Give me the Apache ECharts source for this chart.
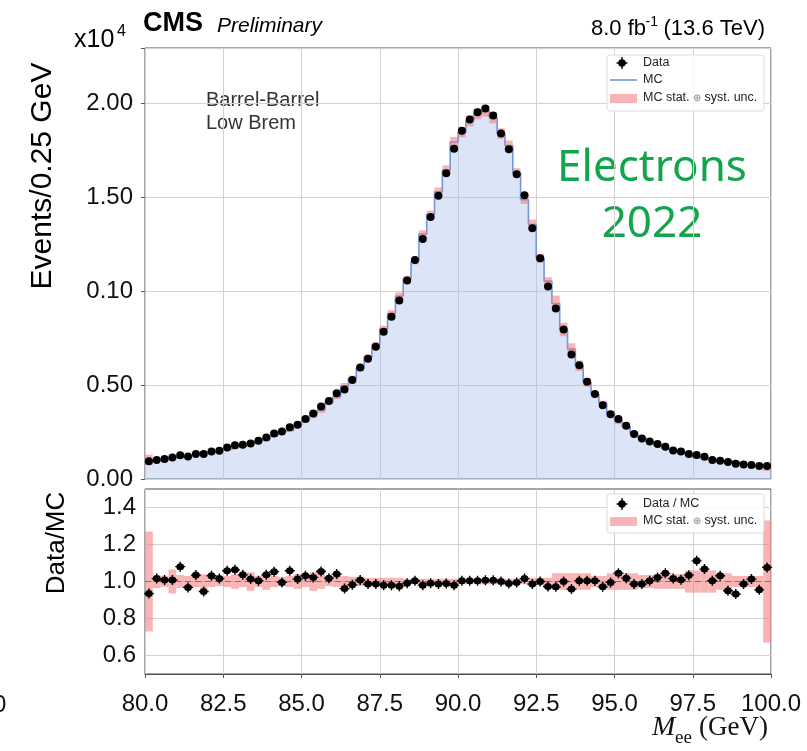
<!DOCTYPE html>
<html><head><meta charset="utf-8">
<script src="https://cdn.jsdelivr.net/npm/echarts@6/dist/echarts.min.js"></script>
<style>html,body{margin:0;padding:0;background:#fff}#c{width:807px;height:751px}</style>
</head><body><div id="c"></div>
<script>
// ---- data (x10^4 events per 0.25 GeV bin, bins from 80 to 100 GeV) ----
const massMin = 80, massMax = 100, binWidth = 0.25;
const xTickLabels = ['80.0','82.5','85.0','87.5','90.0','92.5','95.0','97.5','100.0'];
const topYTickLabels = ['0.00','0.50','0.10','1.50','2.00'];
const ratioYTickLabels = ['0.6','0.8','1.0','1.2','1.4'];

const dataValues = [0.095,0.101,0.106,0.115,0.126,0.120,0.133,0.133,0.147,0.150,
  0.168,0.180,0.182,0.189,0.203,0.221,0.242,0.253,0.275,0.289,
  0.320,0.349,0.386,0.415,0.456,0.477,0.527,0.593,0.640,0.704,
  0.784,0.863,0.950,1.056,1.165,1.278,1.395,1.508,1.627,1.758,
  1.853,1.914,1.952,1.972,1.935,1.839,1.755,1.622,1.510,1.335,
  1.175,1.025,0.907,0.796,0.663,0.605,0.517,0.453,0.393,0.345,
  0.320,0.284,0.240,0.216,0.199,0.186,0.172,0.152,0.146,0.133,
  0.128,0.118,0.101,0.097,0.091,0.081,0.077,0.074,0.069,0.069];

const mcValues = [0.102,0.099,0.105,0.114,0.117,0.124,0.129,0.141,0.143,0.148,
  0.159,0.169,0.176,0.187,0.202,0.213,0.230,0.254,0.260,0.285,
  0.310,0.341,0.366,0.408,0.438,0.496,0.537,0.588,0.649,0.714,
  0.800,0.881,0.974,1.066,1.160,1.304,1.408,1.529,1.645,1.794,
  1.846,1.906,1.944,1.958,1.922,1.839,1.775,1.630,1.486,1.354,
  1.175,1.053,0.934,0.796,0.691,0.603,0.515,0.451,0.405,0.347,
  0.306,0.279,0.243,0.219,0.198,0.182,0.165,0.150,0.145,0.129,
  0.115,0.111,0.101,0.094,0.096,0.087,0.078,0.073,0.072,0.064];

const ratioValues = [0.935,1.016,1.008,1.008,1.080,0.968,1.035,0.946,1.031,1.016,
  1.058,1.063,1.036,1.013,1.004,1.036,1.053,0.995,1.058,1.013,
  1.031,1.022,1.054,1.018,1.040,0.962,0.982,1.008,0.986,0.986,
  0.980,0.980,0.975,0.991,1.004,0.980,0.991,0.986,0.989,0.980,
  1.004,1.004,1.004,1.007,1.007,1.000,0.989,0.995,1.016,0.986,
  1.000,0.973,0.971,1.000,0.959,1.004,1.004,1.004,0.971,0.995,
  1.045,1.018,0.986,0.986,1.004,1.022,1.044,1.016,1.009,1.034,
  1.112,1.067,1.004,1.031,0.950,0.932,0.986,1.013,0.955,1.076];

// relative MC stat (+) syst uncertainty per bin
const uncValues = [0.27,0.035,0.03,0.065,0.035,0.03,0.03,0.04,0.03,0.025,
  0.03,0.04,0.03,0.05,0.03,0.045,0.03,0.025,0.03,0.04,
  0.03,0.05,0.04,0.025,0.03,0.03,0.025,0.025,0.02,0.02,
  0.02,0.02,0.02,0.015,0.015,0.015,0.015,0.015,0.015,0.015,
  0.015,0.015,0.015,0.015,0.015,0.015,0.015,0.015,0.015,0.02,
  0.02,0.02,0.045,0.045,0.045,0.045,0.045,0.03,0.03,0.045,
  0.045,0.045,0.045,0.035,0.035,0.04,0.04,0.04,0.04,0.06,
  0.06,0.06,0.06,0.045,0.045,0.03,0.03,0.03,0.03,0.33];

// ---- build series data ----
const lowEdges = dataValues.map((_, i) => massMin + i * binWidth);
const mcStep = lowEdges.map((x, i) => [x, mcValues[i]]).concat([[massMax, mcValues[mcValues.length - 1]]]);
const mcBand = lowEdges.map((x, i) => [x, x + binWidth, mcValues[i] * (1 - uncValues[i]), mcValues[i] * (1 + uncValues[i])]);
const dataPts = lowEdges.map((x, i) => [x + binWidth / 2, dataValues[i]]);
const ratioBand = lowEdges.map((x, i) => [x, x + binWidth, 1 - uncValues[i], 1 + uncValues[i]]);
const ratioPts = lowEdges.map((x, i) => [x + binWidth / 2, ratioValues[i]]);

const FONT = "'Liberation Sans', Arial, sans-serif";
const starPath = 'path://M1.5,5 A3.5,3.5 0 1 1 8.5,5 A3.5,3.5 0 1 1 1.5,5 Z M4.35,0 L5.65,0 L5.65,10 L4.35,10 Z M0.5,4.35 L9.5,4.35 L9.5,5.65 L0.5,5.65 Z';
const pinkFill = 'rgba(244,120,120,0.55)';

function bandRender(params, api) {
  const p0 = api.coord([api.value(0), api.value(3)]);
  const p1 = api.coord([api.value(1), api.value(2)]);
  return { type: 'rect', shape: { x: p0[0], y: p0[1], width: p1[0] - p0[0], height: p1[1] - p0[1] },
    style: { fill: pinkFill } };
}

const xLabelFmt = v => { const k = Math.round((v - massMin) / 2.5); return Math.abs(v - (massMin + 2.5 * k)) < 1e-6 ? (xTickLabels[k] || '') : ''; };
const topYFmt = v => { const k = Math.round(v / 0.5); return Math.abs(v - k * 0.5) < 1e-6 ? (topYTickLabels[k] || '') : ''; };
const ratioYFmt = v => { const k = Math.round(v * 10); if (k % 2 !== 0) return ''; return ratioYTickLabels[(k - 6) / 2] || ''; };

function starMarker(cx, cy) {
  return [
    { type: 'circle', shape: { cx: cx, cy: cy, r: 3.8 }, style: { fill: '#000' }, z: 11 },
    { type: 'rect', shape: { x: cx - 0.7, y: cy - 6, width: 1.4, height: 12 }, style: { fill: '#000' }, z: 11 },
    { type: 'rect', shape: { x: cx - 5.5, y: cy - 0.7, width: 11, height: 1.4 }, style: { fill: '#000' }, z: 11 }
  ];
}

const LEG = `12.5px ${FONT}`;
const gridLineColor = '#d2d2d2';
const chart = echarts.init(document.getElementById('c'), null, { renderer: 'canvas' });
chart.setOption({
  animation: false,
  backgroundColor: '#fff',
  grid: [
    { left: 145, right: 36, top: 48, height: 431, show: true, borderColor: '#4d4d4d', borderWidth: 1, containLabel: false },
    { left: 145, right: 36, top: 489, height: 185, show: true, borderColor: '#4d4d4d', borderWidth: 1, containLabel: false }
  ],
  xAxis: [
    { type: 'value', gridIndex: 0, min: massMin, max: massMax, interval: 2.5,
      axisLabel: { show: false }, axisTick: { show: false }, axisLine: { show: false },
      splitLine: { show: true, lineStyle: { color: gridLineColor, width: 1 } } },
    { type: 'value', gridIndex: 1, min: massMin, max: massMax, interval: 2.5,
      axisLabel: { show: true, formatter: xLabelFmt, fontSize: 24, color: '#111', fontFamily: FONT, margin: 18 },
      axisTick: { show: true, length: 4, lineStyle: { color: '#555' } },
      axisLine: { show: true, lineStyle: { color: '#4d4d4d' } },
      splitLine: { show: true, lineStyle: { color: gridLineColor, width: 1 } } }
  ],
  yAxis: [
    { type: 'value', gridIndex: 0, min: 0, max: 2.294, interval: 0.5,
      axisLabel: { formatter: topYFmt, fontSize: 24, color: '#111', fontFamily: FONT, margin: 12 },
      axisTick: { show: true, length: 4, lineStyle: { color: '#555' } },
      axisLine: { show: false },
      splitLine: { show: true, lineStyle: { color: gridLineColor, width: 1 } } },
    { type: 'value', gridIndex: 1, min: 0.5, max: 1.5, interval: 0.1,
      axisLabel: { formatter: ratioYFmt, fontSize: 24, color: '#111', fontFamily: FONT, margin: 9 },
      axisTick: { show: false },
      axisLine: { show: false },
      splitLine: { show: true, lineStyle: { color: ['rgba(0,0,0,0)', gridLineColor], width: 1 } } }
  ],
  series: [
    { name: 'MC', type: 'line', xAxisIndex: 0, yAxisIndex: 0, data: mcStep, step: 'end',
      symbol: 'none', lineStyle: { color: '#7396e0', width: 1.6 },
      areaStyle: { color: 'rgba(168,190,238,0.40)', opacity: 1 }, z: 2 },
    { name: 'MC unc', type: 'custom', xAxisIndex: 0, yAxisIndex: 0, data: mcBand,
      renderItem: bandRender, encode: { x: [0, 1], y: [2, 3] }, clip: true, z: 3 },
    { name: 'Data', type: 'scatter', xAxisIndex: 0, yAxisIndex: 0, data: dataPts,
      symbol: 'circle', symbolSize: 8, itemStyle: { color: '#000', opacity: 1 }, z: 5 },
    { name: 'Ratio unc', type: 'custom', xAxisIndex: 1, yAxisIndex: 1, data: ratioBand,
      renderItem: bandRender, encode: { x: [0, 1], y: [2, 3] }, clip: true, z: 3 },
    { name: 'Data / MC', type: 'scatter', xAxisIndex: 1, yAxisIndex: 1, data: ratioPts,
      symbol: starPath, symbolSize: 10, itemStyle: { color: '#000', opacity: 1 }, z: 5,
      markLine: { silent: true, symbol: 'none', label: { show: false },
        lineStyle: { color: '#777', type: [6, 4], width: 1 }, data: [{ yAxis: 1 }] } }
  ],
  graphic: [
    // header
    { type: 'text', x: 143, y: 24, style: { text: 'CMS', font: `bold 27px ${FONT}`, fill: '#000', align: 'left', verticalAlign: 'middle' } },
    { type: 'text', x: 217, y: 26, style: { text: 'Preliminary', font: `italic 21px ${FONT}`, fill: '#000', align: 'left', verticalAlign: 'middle' } },
    { type: 'text', x: 765, y: 29, style: { text: '(13.6 TeV)', font: `22px ${FONT}`, fill: '#000', align: 'right', verticalAlign: 'middle' } },
    { type: 'text', x: 658, y: 22, style: { text: '-1', font: `14px ${FONT}`, fill: '#000', align: 'right', verticalAlign: 'middle' } },
    { type: 'text', x: 646, y: 29, style: { text: '8.0 fb', font: `22px ${FONT}`, fill: '#000', align: 'right', verticalAlign: 'middle' } },
    { type: 'text', x: 74, y: 40, style: { text: 'x10', font: `25px ${FONT}`, fill: '#000', align: 'left', verticalAlign: 'middle' } },
    { type: 'text', x: 117, y: 32, style: { text: '4', font: `16px ${FONT}`, fill: '#000', align: 'left', verticalAlign: 'middle' } },
    // axis titles
    { type: 'text', x: 43, y: 176, rotation: Math.PI / 2, style: { text: 'Events/0.25 GeV', font: `30px ${FONT}`, fill: '#000', align: 'center', verticalAlign: 'middle' } },
    { type: 'text', x: 57, y: 543, rotation: Math.PI / 2, style: { text: 'Data/MC', font: `26px ${FONT}`, fill: '#000', align: 'center', verticalAlign: 'middle' } },
    { type: 'text', x: 652, y: 728, style: { text: 'M', font: `italic 28px 'Liberation Serif', serif`, fill: '#111', align: 'left', verticalAlign: 'middle' } },
    { type: 'text', x: 675, y: 738, style: { text: 'ee', font: `19px 'Liberation Serif', serif`, fill: '#111', align: 'left', verticalAlign: 'middle' } },
    { type: 'text', x: 768, y: 728, style: { text: '(GeV)', font: `27px 'Liberation Serif', serif`, fill: '#111', align: 'right', verticalAlign: 'middle' } },
    { type: 'text', x: -7, y: 705, style: { text: '0', font: `24px ${FONT}`, fill: '#111', align: 'left', verticalAlign: 'middle' } },
    // annotations
    { type: 'text', x: 206, y: 100, style: { text: 'Barrel-Barrel', font: `20px ${FONT}`, fill: '#333', align: 'left', verticalAlign: 'middle' } },
    { type: 'text', x: 206, y: 123, style: { text: 'Low Brem', font: `20px ${FONT}`, fill: '#333', align: 'left', verticalAlign: 'middle' } },
    { type: 'text', x: 652, y: 168, style: { text: 'Electrons', font: `44px 'Noto Sans', sans-serif`, fill: '#13a54b', align: 'center', verticalAlign: 'middle' } },
    { type: 'text', x: 652, y: 224, style: { text: '2022', font: `44px 'Noto Sans', sans-serif`, fill: '#13a54b', align: 'center', verticalAlign: 'middle' } },
    // top legend
    { type: 'rect', shape: { x: 607, y: 55, width: 157, height: 56, r: 3 }, style: { fill: 'rgba(255,255,255,0.85)', stroke: '#dcdcdc', lineWidth: 1 }, z: 10 },
    ...starMarker(622, 63),
    { type: 'text', x: 643, y: 63, style: { text: 'Data', font: LEG, fill: '#222', align: 'left', verticalAlign: 'middle' }, z: 11 },
    { type: 'line', shape: { x1: 610, y1: 80, x2: 637, y2: 80 }, style: { stroke: '#7396e0', lineWidth: 1.6 }, z: 11 },
    { type: 'text', x: 643, y: 80, style: { text: 'MC', font: LEG, fill: '#222', align: 'left', verticalAlign: 'middle' }, z: 11 },
    { type: 'rect', shape: { x: 610, y: 94, width: 27, height: 9 }, style: { fill: pinkFill }, z: 11 },
    { type: 'text', x: 643, y: 98, style: { text: 'MC stat. {o|⊕} syst. unc.', font: LEG, fill: '#222', align: 'left', verticalAlign: 'middle', rich: { o: { fontSize: 10, fill: '#888', fontFamily: FONT } } }, z: 11 },
    // ratio legend
    { type: 'rect', shape: { x: 607, y: 494, width: 157, height: 39, r: 3 }, style: { fill: 'rgba(255,255,255,0.85)', stroke: '#dcdcdc', lineWidth: 1 }, z: 10 },
    ...starMarker(622, 504),
    { type: 'text', x: 643, y: 504, style: { text: 'Data / MC', font: LEG, fill: '#222', align: 'left', verticalAlign: 'middle' }, z: 11 },
    { type: 'rect', shape: { x: 610, y: 517, width: 27, height: 9 }, style: { fill: pinkFill }, z: 11 },
    { type: 'text', x: 643, y: 521, style: { text: 'MC stat. {o|⊕} syst. unc.', font: LEG, fill: '#222', align: 'left', verticalAlign: 'middle', rich: { o: { fontSize: 10, fill: '#888', fontFamily: FONT } } }, z: 11 }
  ]
});
</script>
</body></html>
